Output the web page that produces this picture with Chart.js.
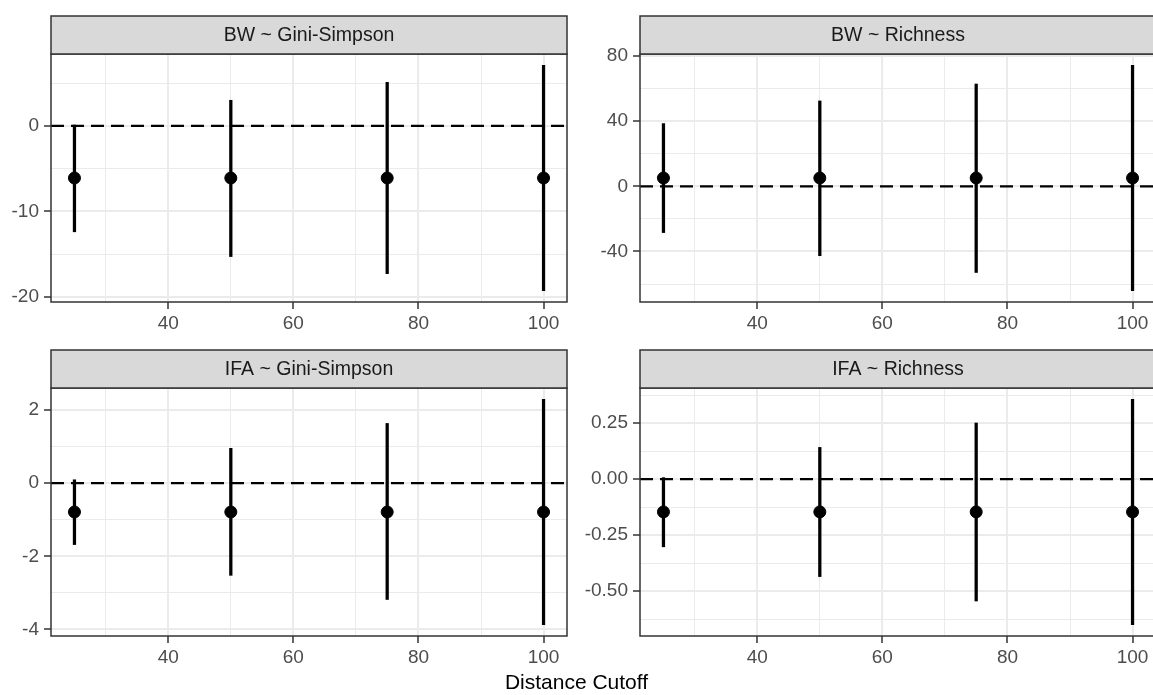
<!DOCTYPE html>
<html>
<head>
<meta charset="utf-8">
<script src="https://cdn.jsdelivr.net/npm/chart.js@4.4.1/dist/chart.umd.min.js"></script>
<style>
html, body { margin: 0; padding: 0; width: 1153px; height: 695px; overflow: hidden; background: #fff; }
canvas { position: absolute; }
#xtitle { position: absolute; left: 0; width: 1153px; top: 670px; text-align: center;
  font: 21px "Liberation Sans", Arial, sans-serif; color: #000; }
</style>
</head>
<body>
<canvas id="p0" width="580" height="345" style="left:0;top:0"></canvas>
<canvas id="p1" width="590" height="345" style="left:580px;top:0"></canvas>
<canvas id="p2" width="580" height="345" style="left:0;top:345px"></canvas>
<canvas id="p3" width="590" height="345" style="left:580px;top:345px"></canvas>
<div id="xtitle">Distance Cutoff</div>
<script>
// data
const distance = [25, 50, 75, 100];
const panelTitles = ['BW ~ Gini-Simpson', 'BW ~ Richness', 'IFA ~ Gini-Simpson', 'IFA ~ Richness'];

const bwGiniEst  = [-6.1, -6.1, -6.1, -6.1];
const bwGiniLow  = [-12.4, -15.3, -17.3, -19.3];
const bwGiniHigh = [0.1, 3.0, 5.1, 7.1];

const bwRichEst  = [5.1, 5.1, 5.1, 5.1];
const bwRichLow  = [-28.4, -42.6, -52.9, -64.1];
const bwRichHigh = [38.5, 52.4, 62.8, 74.3];

const ifaGiniEst  = [-0.79, -0.79, -0.79, -0.79];
const ifaGiniLow  = [-1.68, -2.52, -3.18, -3.87];
const ifaGiniHigh = [0.09, 0.95, 1.63, 2.29];

const ifaRichEst  = [-0.146, -0.146, -0.146, -0.146];
const ifaRichLow  = [-0.302, -0.435, -0.544, -0.650];
const ifaRichHigh = [0.007, 0.142, 0.251, 0.357];

const refLine = 0;

// tick values
const xMajor = [40, 60, 80, 100];
const xMinor = [30, 50, 70, 90];
const yMajor = [[-20, -10, 0], [-40, 0, 40, 80], [-4, -2, 0, 2], [-0.5, -0.25, 0, 0.25]];
const yLabels = [['-20', '-10', '0'], ['-40', '0', '40', '80'], ['-4', '-2', '0', '2'], ['-0.50', '-0.25', '0.00', '0.25']];
const yMinor = [[-15, -5, 5], [-60, -20, 20, 60], [-3, -1, 1], [-0.625, -0.375, -0.125, 0.125, 0.375]];

const panels = [
  { est: bwGiniEst, low: bwGiniLow, high: bwGiniHigh },
  { est: bwRichEst, low: bwRichLow, high: bwRichHigh },
  { est: ifaGiniEst, low: ifaGiniLow, high: ifaGiniHigh },
  { est: ifaRichEst, low: ifaRichLow, high: ifaRichHigh }
];

// where each canvas sits and where its plot area should land (page px)
const boxes = [
  { left: 0,   top: 0,   w: 580, h: 345, l: 51,  r: 567,  t: 54,  b: 302 },
  { left: 580, top: 0,   w: 590, h: 345, l: 640, r: 1156, t: 54,  b: 302 },
  { left: 0,   top: 345, w: 580, h: 345, l: 51,  r: 567,  t: 388, b: 636 },
  { left: 580, top: 345, w: 590, h: 345, l: 640, r: 1156, t: 388, b: 636 }
];
const xAxisH = 40;
const stripH = 38;
const FONT = '"Liberation Sans", Arial, sans-serif';

function expand(lo, hi) {
  const pad = (hi - lo) * 0.05;
  return [lo - pad, hi + pad];
}

const panelDecor = {
  id: 'panelDecor',
  beforeDatasetsDraw(chart) {
    const a = chart.chartArea;
    const y = chart.scales.y.getPixelForValue(refLine);
    const ctx = chart.ctx;
    ctx.save();
    ctx.strokeStyle = '#000';
    ctx.lineWidth = 2.3;
    ctx.setLineDash([13, 7]);
    ctx.beginPath();
    ctx.moveTo(a.left, y);
    ctx.lineTo(a.right, y);
    ctx.stroke();
    ctx.restore();
  },
  afterDraw(chart, args, opts) {
    const a = chart.chartArea;
    const ctx = chart.ctx;
    ctx.save();
    ctx.strokeStyle = '#333333';
    ctx.lineWidth = 1.5;
    ctx.strokeRect(a.left, a.top, a.right - a.left, a.bottom - a.top);
    // strip
    ctx.fillStyle = '#D9D9D9';
    ctx.fillRect(a.left, a.top - stripH, a.right - a.left, stripH);
    ctx.strokeRect(a.left, a.top - stripH, a.right - a.left, stripH);
    ctx.fillStyle = '#1A1A1A';
    ctx.font = '19.5px ' + FONT;
    ctx.textAlign = 'center';
    ctx.textBaseline = 'middle';
    ctx.fillText(opts.title, (a.left + a.right) / 2, a.top - stripH / 2 + 1);
    ctx.restore();
  }
};

panels.forEach((p, k) => {
  const box = boxes[k];
  const xr = expand(Math.min(...distance), Math.max(...distance));
  const yr = expand(Math.min(...p.low), Math.max(...p.high));
  const labelMap = new Map(yMajor[k].map((v, i) => [v, yLabels[k][i]]));
  const yTicks = [...yMajor[k], ...yMinor[k]].sort((a, b) => a - b);
  const xTicks = [...xMajor, ...xMinor].sort((a, b) => a - b);

  const gridFor = (isMajor) => ({
    color: '#EBEBEB',
    lineWidth: c => (c.tick && isMajor(c.tick.value)) ? 2 : 1,
    drawTicks: true,
    tickLength: 7,
    tickWidth: 1.5,
    tickColor: c => (c.tick && isMajor(c.tick.value)) ? '#333333' : 'rgba(0,0,0,0)'
  });

  new Chart(document.getElementById('p' + k), {
    type: 'scatter',
    data: {
      datasets: [
        {
          type: 'scatter',
          data: distance.map((d, i) => ({ x: d, y: p.est[i] })),
          backgroundColor: '#000',
          borderColor: '#000',
          pointRadius: 6,
          pointHoverRadius: 6,
          order: 0
        },
        {
          type: 'bar',
          data: distance.map((d, i) => ({ x: d, y: [p.low[i], p.high[i]] })),
          backgroundColor: '#000',
          borderWidth: 0,
          barThickness: 2.6,
          grouped: false,
          order: 1
        }
      ]
    },
    options: {
      responsive: false,
      animation: false,
      events: [],
      layout: {
        padding: {
          left: 0,
          top: box.t - box.top,
          right: box.left + box.w - box.r,
          bottom: box.top + box.h - box.b - xAxisH
        }
      },
      plugins: {
        legend: { display: false },
        tooltip: { enabled: false },
        panelDecor: { title: panelTitles[k] }
      },
      scales: {
        x: {
          type: 'linear',
          min: xr[0],
          max: xr[1],
          bounds: 'data',
          offset: false,
          afterBuildTicks: s => { s.ticks = xTicks.map(v => ({ value: v })); },
          afterFit: s => { s.height = xAxisH; },
          grid: Object.assign(gridFor(v => xMajor.includes(v)), { offset: false }),
          border: { display: false },
          ticks: {
            autoSkip: false,
            maxRotation: 0,
            padding: 3,
            color: '#4D4D4D',
            font: { family: FONT, size: 19 },
            callback: v => xMajor.includes(v) ? String(v) : ''
          }
        },
        y: {
          type: 'linear',
          min: yr[0],
          max: yr[1],
          bounds: 'data',
          afterBuildTicks: s => { s.ticks = yTicks.map(v => ({ value: v })); },
          afterFit: s => { s.width = box.l - box.left; },
          grid: gridFor(v => labelMap.has(v)),
          border: { display: false },
          ticks: {
            autoSkip: false,
            padding: 5,
            color: '#4D4D4D',
            font: { family: FONT, size: 19 },
            callback: v => labelMap.has(v) ? labelMap.get(v) : ''
          }
        }
      }
    },
    plugins: [panelDecor]
  });
});
</script>
</body>
</html>
